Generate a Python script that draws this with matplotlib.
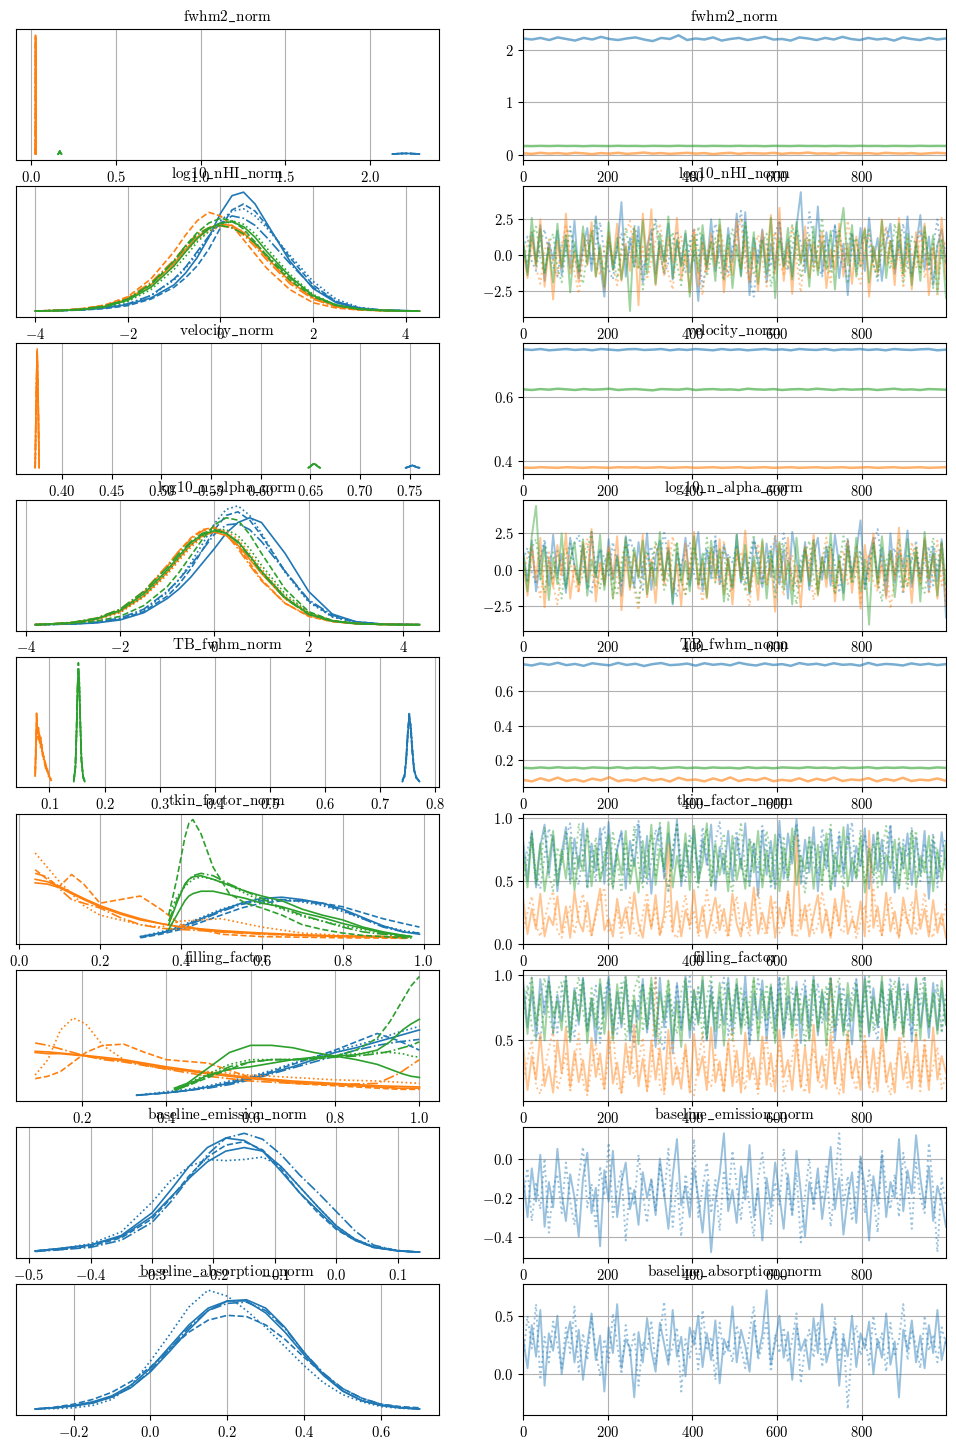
import numpy as np
import matplotlib.pyplot as plt
from matplotlib.ticker import MultipleLocator

plt.rcParams.update({
    "font.family": "serif",
    "font.serif": ["cmr10"],
    "mathtext.fontset": "cm",
    "axes.formatter.use_mathtext": True,
    "font.size": 10.5,
})

BLUE, ORANGE, GREEN = "#1f77b4", "#ff7f0e", "#2ca02c"
STYLES = ["-", "--", ":", "-.", "-"]

# ---------------- fwhm2_norm ----------------
fwhm2_grid_orange = [0.026, 0.027, 0.028, 0.029, 0.030, 0.031]
fwhm2_kde_orange = [[0, 0.3, 1.0, 0.95, 0.25, 0], [0, 0.35, 0.98, 0.9, 0.3, 0],
                    [0, 0.25, 0.96, 0.97, 0.2, 0], [0, 0.3, 0.93, 0.92, 0.28, 0]]
fwhm2_grid_green = [0.160, 0.165, 0.168, 0.171, 0.174, 0.177, 0.182]
fwhm2_kde_green = [[0, 0.006, 0.018, 0.026, 0.017, 0.005, 0], [0, 0.005, 0.016, 0.024, 0.019, 0.006, 0],
                   [0, 0.007, 0.019, 0.025, 0.015, 0.004, 0], [0, 0.006, 0.017, 0.027, 0.016, 0.005, 0]]
fwhm2_grid_blue = [2.13, 2.15, 2.18, 2.21, 2.24, 2.27, 2.29]
fwhm2_kde_blue = [[0, 0.003, 0.005, 0.006, 0.005, 0.003, 0], [0, 0.002, 0.005, 0.006, 0.005, 0.002, 0],
                  [0, 0.003, 0.006, 0.005, 0.006, 0.003, 0], [0, 0.002, 0.005, 0.006, 0.004, 0.002, 0]]
fwhm2_trace_blue = [2.21, 2.19, 2.22, 2.18, 2.23, 2.20, 2.17, 2.22, 2.19, 2.24, 2.20, 2.18, 2.21, 2.23, 2.19,
                    2.16, 2.22, 2.20, 2.27, 2.18, 2.21, 2.19, 2.23, 2.17, 2.20, 2.22, 2.18, 2.21, 2.24, 2.19,
                    2.20, 2.17, 2.23, 2.21, 2.18, 2.22, 2.19, 2.24, 2.20, 2.18, 2.22, 2.19, 2.21, 2.17, 2.23,
                    2.20, 2.18, 2.22, 2.19, 2.21]
fwhm2_trace_green = [0.170, 0.167, 0.172, 0.168, 0.173, 0.169, 0.171, 0.166, 0.172, 0.170, 0.168, 0.173, 0.169,
                     0.171, 0.167, 0.172, 0.170, 0.168, 0.174, 0.169, 0.171, 0.167, 0.172, 0.170, 0.168, 0.173,
                     0.169, 0.171, 0.166, 0.172, 0.170, 0.168, 0.173, 0.169, 0.171, 0.167, 0.172, 0.170, 0.168,
                     0.173, 0.169, 0.171, 0.167, 0.172, 0.170, 0.168, 0.173, 0.169, 0.171, 0.170]
fwhm2_trace_orange = [0.03, 0.02, 0.04, 0.025, 0.035, 0.02, 0.04, 0.03, 0.015, 0.035, 0.025, 0.04, 0.02, 0.03,
                      0.045, 0.025, 0.035, 0.02, 0.03, 0.04, 0.025, 0.035, 0.015, 0.03, 0.04, 0.02, 0.035, 0.03,
                      0.025, 0.04, 0.02, 0.035, 0.03, 0.045, 0.025, 0.03, 0.02, 0.04, 0.03, 0.025, 0.035, 0.02,
                      0.04, 0.03, 0.025, 0.035, 0.02, 0.03, 0.04, 0.03]

# ---------------- log10_nHI_norm ----------------
nhi_grid = [-4.0, -3.5, -3.0, -2.5, -2.0, -1.5, -1.0, -0.75, -0.5, -0.25, 0.0, 0.25, 0.5, 0.75, 1.0,
            1.5, 2.0, 2.5, 3.0, 3.5, 4.0, 4.3]
nhi_kde_blue = [
    [0.0, 0.003, 0.01, 0.025, 0.055, 0.11, 0.22, 0.32, 0.45, 0.62, 0.82, 0.97, 1.0, 0.9, 0.74, 0.42, 0.19, 0.07, 0.02, 0.006, 0.002, 0.0],
    [0.0, 0.002, 0.008, 0.02, 0.045, 0.1, 0.2, 0.28, 0.38, 0.52, 0.7, 0.85, 0.9, 0.84, 0.72, 0.45, 0.22, 0.08, 0.025, 0.007, 0.002, 0.0],
    [0.0, 0.004, 0.012, 0.03, 0.06, 0.13, 0.26, 0.36, 0.48, 0.62, 0.76, 0.84, 0.86, 0.8, 0.7, 0.47, 0.25, 0.1, 0.03, 0.008, 0.002, 0.0],
    [0.0, 0.003, 0.01, 0.028, 0.06, 0.13, 0.27, 0.37, 0.5, 0.63, 0.74, 0.8, 0.78, 0.72, 0.62, 0.4, 0.2, 0.08, 0.025, 0.007, 0.002, 0.0],
]
nhi_kde_orange = [
    [0.0, 0.004, 0.015, 0.04, 0.1, 0.22, 0.4, 0.52, 0.62, 0.7, 0.73, 0.72, 0.66, 0.56, 0.45, 0.25, 0.11, 0.04, 0.012, 0.003, 0.0, 0.0],
    [0.0, 0.005, 0.02, 0.05, 0.12, 0.27, 0.5, 0.64, 0.76, 0.83, 0.8, 0.72, 0.6, 0.48, 0.36, 0.18, 0.07, 0.025, 0.008, 0.002, 0.0, 0.0],
    [0.0, 0.004, 0.014, 0.038, 0.09, 0.2, 0.38, 0.5, 0.6, 0.67, 0.71, 0.71, 0.67, 0.58, 0.47, 0.27, 0.12, 0.045, 0.014, 0.004, 0.001, 0.0],
    [0.0, 0.005, 0.018, 0.045, 0.11, 0.24, 0.43, 0.55, 0.65, 0.7, 0.72, 0.7, 0.64, 0.54, 0.43, 0.23, 0.1, 0.035, 0.01, 0.003, 0.0, 0.0],
]
nhi_kde_green = [
    [0.0, 0.003, 0.012, 0.035, 0.09, 0.2, 0.38, 0.5, 0.61, 0.69, 0.74, 0.75, 0.71, 0.62, 0.5, 0.29, 0.13, 0.05, 0.015, 0.004, 0.001, 0.0],
    [0.0, 0.004, 0.014, 0.04, 0.1, 0.22, 0.42, 0.55, 0.66, 0.74, 0.78, 0.76, 0.69, 0.58, 0.46, 0.26, 0.12, 0.045, 0.014, 0.004, 0.001, 0.0],
    [0.0, 0.003, 0.01, 0.03, 0.08, 0.18, 0.35, 0.46, 0.58, 0.67, 0.73, 0.76, 0.73, 0.65, 0.53, 0.31, 0.14, 0.05, 0.016, 0.005, 0.002, 0.0],
    [0.0, 0.004, 0.015, 0.042, 0.1, 0.23, 0.42, 0.54, 0.64, 0.7, 0.72, 0.7, 0.65, 0.57, 0.47, 0.28, 0.13, 0.05, 0.016, 0.005, 0.001, 0.0],
]
nhi_trace_blue = [0.8, -1.2, 1.6, -0.5, 2.1, -1.8, 0.9, -0.3, 1.7, -1.4,
                  1.1, -0.9, 2.4, -1.6, 0.5, 1.9, -1.1, 2.7, -0.6, -2.9,
                  1.3, -1.0, 0.4, 3.7, -1.5, 1.2, -0.8, 2.0, -1.9, 0.6,
                  1.8, -1.3, 0.9, -0.4, 2.2, -1.7, 1.0, -0.7, 1.5, -1.2,
                  0.3, -3.2, 1.4, -0.9, 2.5, -1.1, 0.7, -1.6, 1.9, -0.5,
                  2.9, -1.4, 3.0, -2.8, 1.2, -0.6, 1.8, -1.9, 0.8, -1.0,
                  2.3, -0.8, 1.1, -1.5, 2.0, 4.4, -1.2, 0.9, -0.6, 3.4,
                  -1.3, 1.6, -0.9, 2.1, -1.6, 0.8, -2.8, 1.4, -0.7, 1.9,
                  -1.1, 2.6, -0.4, 1.2, -1.8, 0.9, 2.2, -1.3, 1.0, -0.8,
                  2.7, -1.5, 0.6, 2.8, -1.0, 1.3, -2.1, 0.7, 1.8, -0.6]
nhi_trace_blue2 = [0.5, 1.3, -0.4, -1.1, 0.9, 1.8, 0.2, -0.8, -1.5, 0.6,
                   1.4, 2.0, -0.2, -1.3, 0.4, 1.1, -0.6, 0.8, 2.3, 0.1,
                   -1.0, -1.7, 0.7, 1.5, -0.3, 0.5, 2.1, 1.0, -0.9, -0.2,
                   1.2, 2.6, 0.3, -1.4, -0.5, 0.9, 1.7, -0.1, -1.2, 0.6,
                   1.9, 0.4, -2.2, -0.7, 1.0, 2.2, 0.8, -0.4, -1.3, 0.5,
                   1.6, 3.1, 0.2, -1.6, -2.9, 0.3, 1.2, 0.7, -0.8, 1.5,
                   2.4, -0.3, -1.1, 0.6, 1.8, 0.9, -0.5, 3.0, 1.1, -0.7,
                   -1.5, 0.4, 1.3, 2.0, -0.2, -0.9, 0.8, 1.6, -1.2, 0.2,
                   1.4, 0.6, -0.6, -1.8, 0.5, 1.9, 1.0, -0.4, 0.7, 2.2,
                   -0.8, -1.4, 0.9, 1.7, 0.3, -1.0, 0.6, 2.5, -0.3, 0.8]
nhi_trace_orange = [0.4, -1.6, 1.2, -0.8, 2.5, -2.2, 0.6, -3.1, 1.0, -0.9,
                    2.9, -1.3, 0.2, -1.9, 1.5, -0.7, 2.3, -1.5, 0.5, -2.4,
                    1.6, -0.6, 2.2, -1.8, 0.8, -1.1, 1.9, -3.5, 2.9, -0.4,
                    3.2, -2.1, 0.7, -1.4, 1.3, -0.5, 2.6, -1.7, 0.3, -2.6,
                    1.8, -2.2, 0.9, -1.2, 1.5, -0.8, 2.1, -2.6, 0.6, -1.4,
                    2.4, -0.9, 1.1, -1.9, 0.5, -2.5, 1.7, -0.6, 2.8, -1.3,
                    3.3, -1.8, 0.8, -2.7, 1.4, -0.5, 2.0, -1.6, 0.9, -1.1,
                    1.5, -2.3, 0.4, -1.0, 2.2, -1.5, 0.7, -2.0, 1.3, -0.8,
                    1.9, -2.9, 0.6, -1.2, 2.5, -0.7, 1.0, -2.1, 2.6, -1.4,
                    0.8, -2.4, 1.6, -0.9, 2.2, -2.8, 0.5, -1.3, 2.6, -1.7]
nhi_trace_orange2 = [-0.5, 0.8, 1.6, -0.9, -2.0, 0.3, 1.1, -0.4, -1.5, 0.7,
                     2.0, 0.2, -1.2, -2.7, -0.3, 0.9, 1.8, -0.6, -1.4, 0.4,
                     1.2, -0.8, -2.1, 0.1, 1.5, 2.4, -0.2, -1.0, 0.6, -1.7,
                     -0.4, 1.0, 2.2, 0.3, -1.3, -2.4, 0.5, 1.3, -0.7, -0.1,
                     1.7, -1.1, -2.8, 0.2, 0.9, -0.5, 1.9, 0.6, -1.6, -0.3,
                     1.1, 2.6, -0.9, -1.8, 0.4, 1.4, -0.2, -2.2, 0.8, 1.6,
                     -0.6, -1.3, 0.7, 2.1, -0.4, -2.6, 0.0, 1.2, -1.0, 0.5,
                     1.8, -0.7, -1.9, 0.3, 1.0, -0.3, 2.4, 0.6, -1.2, -2.0,
                     0.2, 1.5, -0.8, -1.4, 0.9, 2.0, -0.5, -1.1, 0.4, -2.3,
                     1.3, 0.1, -0.9, 1.7, -1.6, -0.2, 0.8, -2.9, 0.5, 1.0]
nhi_trace_green = [1.0, -1.4, 2.6, -0.7, 1.8, -1.2, 0.5, -1.9, 2.2, -0.8,
                   1.4, -2.6, 0.9, -1.1, 2.0, -0.6, 1.6, -1.5, 0.7, -2.2,
                   2.3, -1.0, 1.2, -1.7, 0.6, -3.9, 1.9, -0.9, 2.4, -1.3,
                   0.8, -2.0, 1.5, -0.5, 2.7, -1.6, 1.1, -0.8, 1.7, -2.9,
                   1.3, -1.2, 2.1, -0.7, 0.9, -1.8, 2.5, -1.0, 1.4, -2.3,
                   0.7, -1.5, 2.2, -0.9, 1.6, -2.0, 1.0, -1.3, 2.6, -3.0,
                   1.2, -0.8, 1.9, -1.7, 2.3, -0.6, 1.1, -2.2, 2.0, -1.4,
                   0.9, -1.0, 1.7, -2.4, 1.3, 3.3, -0.7, 2.1, -1.5, 0.8,
                   1.8, -1.9, 0.6, -1.1, 2.4, -1.6, 1.0, -0.9, 2.2, -1.3,
                   1.5, -2.1, 0.8, -1.8, 2.0, -0.7, 1.4, -2.6, 1.1, -3.0]
nhi_trace_green2 = [0.3, -0.6, 1.2, 2.0, -0.2, -1.3, 0.8, 1.5, -0.9, -1.9,
                    0.4, 1.7, 0.6, -0.7, -2.0, 0.2, 1.3, 2.5, -0.4, -1.1,
                    0.9, -0.3, -1.6, 0.5, 1.9, 0.1, -0.8, 1.1, -2.4, -0.5,
                    1.4, 2.2, -0.1, -1.2, 0.7, 1.6, -0.6, -2.1, 0.3, 1.0,
                    -0.4, 2.0, 0.8, -1.5, -0.2, 1.2, -0.9, -1.8, 0.6, 1.8,
                    0.2, -1.0, 2.3, 0.4, -1.4, -0.3, 0.9, 1.5, -2.2, -0.6,
                    1.1, 0.3, -0.8, 2.1, 0.7, -1.6, -0.1, 1.4, -1.1, 0.5,
                    2.6, -0.5, -1.3, 0.8, 1.7, -0.2, -2.0, 0.6, 1.2, -0.9,
                    0.1, 1.9, -0.7, -1.5, 0.9, 0.3, -1.0, 2.2, 0.5, -1.9,
                    -0.4, 1.3, 0.7, -1.2, 1.6, -0.3, -2.3, 0.8, 1.1, -0.6]

# ---------------- velocity_norm ----------------
vel_grid_orange = [0.3730, 0.3740, 0.3750, 0.3760, 0.3770]
vel_kde_orange = [[0, 0.6, 1.0, 0.55, 0], [0, 0.5, 0.97, 0.6, 0], [0, 0.55, 0.95, 0.5, 0], [0, 0.6, 0.98, 0.58, 0]]
vel_grid_green = [0.648, 0.650, 0.652, 0.654, 0.656, 0.658, 0.660]
vel_kde_green = [[0, 0.01, 0.025, 0.035, 0.024, 0.01, 0], [0, 0.012, 0.028, 0.033, 0.022, 0.008, 0],
                 [0, 0.009, 0.024, 0.036, 0.026, 0.011, 0], [0, 0.011, 0.027, 0.034, 0.023, 0.009, 0]]
vel_grid_blue = [0.746, 0.749, 0.751, 0.753, 0.755, 0.757, 0.760]
vel_kde_blue = [[0, 0.008, 0.016, 0.02, 0.014, 0.006, 0], [0, 0.007, 0.014, 0.022, 0.012, 0.005, 0],
                [0, 0.009, 0.017, 0.019, 0.015, 0.007, 0], [0, 0.008, 0.015, 0.021, 0.013, 0.006, 0]]
vel_trace_blue = [0.751, 0.749, 0.752, 0.748, 0.750, 0.752, 0.749, 0.751, 0.748, 0.752, 0.750, 0.748, 0.751,
                  0.752, 0.749, 0.750, 0.752, 0.748, 0.751, 0.749, 0.752, 0.750, 0.748, 0.752, 0.749, 0.751,
                  0.748, 0.750, 0.752, 0.749, 0.751, 0.748, 0.752, 0.750, 0.749, 0.752, 0.748, 0.751, 0.750,
                  0.752, 0.749, 0.751, 0.748, 0.752, 0.750, 0.749, 0.751, 0.752, 0.748, 0.750]
vel_trace_green = [0.625, 0.623, 0.626, 0.624, 0.627, 0.625, 0.623, 0.626, 0.624, 0.625, 0.627, 0.623, 0.625,
                   0.626, 0.624, 0.622, 0.626, 0.625, 0.624, 0.627, 0.623, 0.625, 0.626, 0.624, 0.625, 0.623,
                   0.627, 0.625, 0.624, 0.626, 0.623, 0.625, 0.626, 0.624, 0.627, 0.625, 0.623, 0.626, 0.624,
                   0.625, 0.626, 0.623, 0.625, 0.627, 0.624, 0.625, 0.623, 0.626, 0.625, 0.624]
vel_trace_orange = [0.379, 0.378, 0.380, 0.379, 0.378, 0.380, 0.379, 0.378, 0.380, 0.379, 0.378, 0.380, 0.379,
                    0.380, 0.378, 0.379, 0.380, 0.378, 0.379, 0.380, 0.378, 0.379, 0.380, 0.378, 0.379, 0.380,
                    0.378, 0.379, 0.380, 0.378, 0.379, 0.380, 0.378, 0.379, 0.380, 0.378, 0.379, 0.380, 0.378,
                    0.379, 0.380, 0.378, 0.379, 0.380, 0.378, 0.379, 0.380, 0.378, 0.379, 0.380]

# ---------------- log10_n_alpha_norm ----------------
nal_grid = [-3.8, -3.5, -3.0, -2.5, -2.0, -1.5, -1.0, -0.75, -0.5, -0.25, 0.0, 0.25, 0.5, 0.75, 1.0,
            1.5, 2.0, 2.5, 3.0, 3.5, 4.0, 4.35]
nal_kde_blue = [
    [0, 0.002, 0.006, 0.015, 0.04, 0.1, 0.22, 0.3, 0.4, 0.52, 0.64, 0.77, 0.86, 0.9, 0.86, 0.6, 0.28, 0.09, 0.025, 0.007, 0.002, 0],
    [0, 0.002, 0.007, 0.018, 0.045, 0.11, 0.24, 0.34, 0.47, 0.63, 0.8, 0.92, 0.95, 0.88, 0.75, 0.45, 0.2, 0.07, 0.02, 0.006, 0.003, 0],
    [0, 0.002, 0.007, 0.02, 0.05, 0.12, 0.27, 0.38, 0.52, 0.68, 0.85, 0.97, 1.0, 0.92, 0.77, 0.44, 0.19, 0.065, 0.02, 0.006, 0.002, 0],
    [0, 0.003, 0.008, 0.022, 0.055, 0.13, 0.28, 0.38, 0.5, 0.63, 0.76, 0.84, 0.85, 0.8, 0.7, 0.45, 0.21, 0.08, 0.025, 0.008, 0.003, 0],
]
nal_kde_orange = [
    [0, 0.004, 0.015, 0.045, 0.11, 0.24, 0.44, 0.56, 0.67, 0.75, 0.78, 0.75, 0.67, 0.55, 0.43, 0.22, 0.09, 0.03, 0.01, 0.003, 0.001, 0],
    [0, 0.005, 0.018, 0.05, 0.12, 0.27, 0.49, 0.62, 0.73, 0.8, 0.82, 0.77, 0.66, 0.52, 0.38, 0.18, 0.07, 0.025, 0.008, 0.002, 0, 0],
    [0, 0.004, 0.015, 0.042, 0.1, 0.23, 0.42, 0.54, 0.65, 0.74, 0.79, 0.79, 0.72, 0.6, 0.47, 0.24, 0.1, 0.035, 0.01, 0.003, 0, 0],
    [0, 0.006, 0.02, 0.055, 0.13, 0.28, 0.5, 0.62, 0.72, 0.79, 0.81, 0.76, 0.64, 0.5, 0.37, 0.18, 0.075, 0.03, 0.01, 0.003, 0, 0],
]
nal_kde_green = [
    [0, 0.005, 0.018, 0.05, 0.12, 0.26, 0.46, 0.58, 0.69, 0.76, 0.79, 0.77, 0.7, 0.58, 0.45, 0.23, 0.09, 0.03, 0.01, 0.003, 0, 0],
    [0, 0.003, 0.01, 0.03, 0.07, 0.16, 0.32, 0.44, 0.58, 0.72, 0.84, 0.9, 0.88, 0.76, 0.6, 0.3, 0.11, 0.035, 0.01, 0.003, 0, 0],
    [0, 0.004, 0.015, 0.045, 0.11, 0.24, 0.44, 0.56, 0.67, 0.75, 0.8, 0.8, 0.75, 0.64, 0.5, 0.26, 0.1, 0.035, 0.01, 0.003, 0, 0],
    [0, 0.005, 0.02, 0.055, 0.13, 0.28, 0.48, 0.6, 0.7, 0.77, 0.8, 0.77, 0.69, 0.57, 0.44, 0.22, 0.085, 0.03, 0.01, 0.003, 0, 0],
]
nal_trace_blue = [1.2, -0.8, 2.0, -1.5, 0.6, 1.8, -1.1, 2.4, -0.4, 1.1,
                  -1.6, 2.2, 0.3, -0.9, 1.7, -1.3, 2.6, -0.5, 1.4, -1.0,
                  2.1, -0.7, 1.0, -1.8, 2.3, 0.2, -1.2, 1.9, -0.6, 2.5,
                  -1.4, 0.9, 2.0, -0.8, 1.5, -2.4, 1.2, -0.3, 2.2, -1.1,
                  0.8, 2.6, -1.5, 1.3, -0.6, 2.0, -1.0, 1.7, 0.4, -1.3,
                  2.4, -0.9, 1.1, -1.7, 2.1, 0.5, -1.2, 1.8, -0.5, 2.3,
                  -1.0, 1.4, -2.0, 2.6, 0.7, -0.8, 1.9, -1.4, 1.0, 2.2,
                  -0.7, 1.6, -1.1, 2.4, 0.3, -1.6, 2.0, -0.4, 1.2, 3.4,
                  -1.3, 0.9, 2.2, -0.6, 1.5, -1.8, 2.5, -0.9, 1.3, 0.1,
                  2.7, -1.2, 1.0, -0.5, 2.0, -1.5, 1.6, -0.8, 2.1, -3.3]
nal_trace_blue2 = [0.7, 1.5, -0.2, -1.0, 0.9, 2.1, 0.4, -0.7, 1.3, 0.1,
                   -1.2, 0.6, 1.8, 2.4, 0.2, -0.9, -1.7, 0.5, 1.4, 0.8,
                   -0.4, 1.9, 0.3, -1.1, 0.7, 2.2, 1.0, -0.5, -1.4, 0.9,
                   1.6, -0.1, 0.5, 2.7, 0.6, -0.8, -1.9, 0.4, 1.2, 1.9,
                   -0.3, -1.0, 0.8, 1.5, 0.2, 2.3, -0.6, -1.3, 1.1, 0.5,
                   1.7, -0.2, -0.9, 0.6, 2.0, 1.2, -0.7, 0.3, 1.6, -1.5,
                   0.4, 2.5, 0.9, -0.4, -1.2, 0.7, 1.4, 0.1, 2.1, -0.8,
                   -0.2, 1.0, 1.8, 0.3, -1.6, 0.6, 2.2, -0.5, 0.9, 1.3,
                   -1.0, 0.2, 1.7, 2.8, 0.4, -0.9, 0.8, 1.5, -0.3, -1.7,
                   1.1, 0.5, 2.0, -0.6, 0.7, 1.6, -1.1, 0.3, 1.9, -2.6]
nal_trace_orange = [0.6, -1.8, 1.4, -0.7, 2.2, -2.6, 0.8, -1.2, 1.7, -0.4,
                    2.5, -2.0, 0.3, -1.5, 1.9, -0.8, 2.8, -2.2, 0.5, -1.1,
                    1.6, -0.6, 2.3, -2.8, 0.9, -1.4, 1.2, -0.5, 2.4, -1.9,
                    0.7, -2.3, 1.5, -0.9, 2.0, -1.6, 0.4, -2.5, 1.8, -0.7,
                    2.6, -1.3, 0.6, -2.0, 1.3, -0.8, 2.1, -1.7, 0.8, -2.4,
                    1.4, -0.6, 2.7, -1.5, 0.5, -2.1, 1.9, -1.0, 0.7, -2.9,
                    1.8, -0.9, 2.2, -1.4, 0.3, -2.6, 1.6, -0.7, 2.4, -1.8,
                    0.9, -1.2, 1.5, -2.2, 0.6, -0.9, 2.0, -1.6, 1.1, -2.7,
                    1.7, -0.8, 2.5, -1.3, 0.4, -2.0, 1.3, -0.6, 2.9, -1.5,
                    0.8, -2.3, 1.6, -1.1, 2.2, -0.7, 1.0, -2.0, 1.8, -2.5]
nal_trace_orange2 = [-0.3, 0.9, 1.7, -0.6, -1.9, 0.4, 1.2, -1.1, -2.4, 0.2,
                     1.5, 0.6, -0.9, -1.6, 0.8, 2.1, -0.2, -1.3, 0.5, -0.7,
                     1.4, -2.0, -0.4, 0.7, 1.9, 0.1, -1.5, -2.8, 0.3, 1.1,
                     -0.5, 1.8, 0.4, -1.2, -0.1, 2.3, 0.9, -0.8, -1.7, 0.6,
                     1.3, -0.6, -2.2, 0.0, 1.6, 0.5, -1.0, 2.0, -0.3, -1.4,
                     0.7, 1.2, -0.9, -2.5, 0.4, 1.8, -0.4, -1.1, 0.9, 2.4,
                     -0.2, -1.8, 0.3, 1.0, -0.7, -1.3, 1.5, 0.6, -2.1, -0.5,
                     0.8, 2.2, -0.1, -1.6, 0.5, 1.3, -1.0, -0.3, 1.7, -2.3,
                     0.2, 1.1, -0.8, -1.5, 0.9, 0.4, -2.7, -0.6, 1.4, 0.7,
                     -1.2, 1.9, 0.1, -0.9, 1.2, -1.7, -0.2, 2.0, -1.1, 0.3]
nal_trace_green = [1.1, -1.5, 2.3, 4.4, -0.7, 1.6, -2.1, 0.8, -1.0, 2.5,
                   -1.3, 0.6, 1.9, -0.9, 2.1, -1.8, 0.7, -0.5, 2.4, -1.4,
                   1.2, -2.0, 0.9, -0.8, 2.2, -1.2, 1.5, -0.6, 2.0, -1.7,
                   0.5, -1.1, 2.6, -0.7, 1.3, -2.3, 1.8, -0.9, 0.6, -1.5,
                   2.3, -1.0, 1.1, -1.9, 2.0, -0.5, 1.4, -2.2, 0.8, -1.2,
                   2.4, -0.8, 1.7, -1.6, 0.9, -1.0, 2.1, -2.0, 1.2, -0.7,
                   1.9, -1.4, 0.6, -2.4, 2.2, -0.9, 1.5, -1.1, 2.0, -1.7,
                   0.8, -0.6, 2.5, -1.3, 1.0, -2.1, 1.6, -0.8, 2.2, -1.5,
                   0.7, -3.8, 1.8, -1.0, 2.3, -0.7, 1.2, -1.9, 0.9, -1.2,
                   2.1, -0.9, 1.4, -2.2, 2.6, -0.6, 1.1, -1.8, 1.9, -1.0]
nal_trace_green2 = [0.4, -0.9, 1.5, 2.1, -0.3, -1.6, 0.7, 1.2, -0.5, -2.0,
                    0.9, 1.8, 0.2, -1.1, -0.4, 1.4, 2.6, -0.2, -1.3, 0.6,
                    1.1, -0.7, -1.8, 0.3, 1.7, 0.8, -1.0, -2.3, 0.5, 1.3,
                    -0.1, 2.0, 0.6, -1.4, -0.6, 1.0, 1.9, -0.8, -1.7, 0.2,
                    1.6, 0.4, -1.2, 2.2, -0.3, -0.9, 0.8, 1.5, -2.1, -0.5,
                    1.2, 0.1, -1.5, 0.9, 2.4, -0.2, -1.1, 0.6, 1.4, -1.9,
                    -0.4, 1.8, 0.5, -0.8, -2.4, 0.3, 1.1, 2.0, -0.6, -1.3,
                    0.7, 1.6, -0.1, -1.7, 0.4, 2.3, 0.9, -1.0, -0.3, 1.2,
                    -1.5, 0.2, 1.7, -0.7, -2.2, 0.6, 1.3, -0.4, 2.1, 0.0,
                    -1.2, 0.8, 1.5, -0.9, -1.6, 0.5, 2.2, -0.2, 0.9, -1.4]

# ---------------- TB_fwhm_norm ----------------
tb_grid_orange = [0.074, 0.0755, 0.0765, 0.078, 0.080, 0.082, 0.084, 0.086, 0.088, 0.090, 0.093, 0.096, 0.099, 0.103]
tb_kde_orange = [[0.06, 0.3, 0.58, 0.42, 0.46, 0.35, 0.38, 0.28, 0.25, 0.2, 0.16, 0.1, 0.06, 0.02],
                 [0.1, 0.4, 0.5, 0.48, 0.38, 0.4, 0.3, 0.32, 0.22, 0.22, 0.13, 0.12, 0.05, 0.03],
                 [0.08, 0.35, 0.45, 0.4, 0.44, 0.33, 0.34, 0.26, 0.27, 0.18, 0.15, 0.08, 0.07, 0.02],
                 [0.05, 0.25, 0.4, 0.44, 0.36, 0.37, 0.28, 0.3, 0.2, 0.19, 0.12, 0.1, 0.04, 0.02]]
tb_grid_green = [0.144, 0.147, 0.149, 0.151, 0.1525, 0.154, 0.156, 0.158, 0.161, 0.164]
tb_kde_green = [[0.01, 0.12, 0.4, 0.8, 0.95, 0.85, 0.5, 0.2, 0.05, 0.01],
                [0.02, 0.14, 0.42, 0.78, 1.0, 0.82, 0.48, 0.18, 0.06, 0.01],
                [0.01, 0.1, 0.38, 0.75, 0.9, 0.88, 0.52, 0.22, 0.05, 0.02],
                [0.02, 0.13, 0.41, 0.82, 0.93, 0.8, 0.47, 0.19, 0.04, 0.01]]
tb_grid_blue = [0.741, 0.745, 0.748, 0.751, 0.7535, 0.756, 0.759, 0.762, 0.766, 0.772]
tb_kde_blue = [[0.01, 0.06, 0.2, 0.42, 0.55, 0.48, 0.28, 0.12, 0.04, 0.01],
               [0.02, 0.07, 0.22, 0.45, 0.59, 0.44, 0.25, 0.1, 0.05, 0.01],
               [0.01, 0.05, 0.18, 0.4, 0.5, 0.5, 0.3, 0.13, 0.04, 0.01],
               [0.02, 0.06, 0.21, 0.43, 0.53, 0.46, 0.27, 0.11, 0.05, 0.01]]
tb_trace_blue = [0.755, 0.748, 0.760, 0.752, 0.764, 0.750, 0.757, 0.746, 0.761, 0.754, 0.749, 0.763, 0.751,
                 0.758, 0.745, 0.756, 0.762, 0.750, 0.753, 0.759, 0.747, 0.761, 0.752, 0.757, 0.749, 0.764,
                 0.754, 0.748, 0.760, 0.751, 0.756, 0.746, 0.762, 0.753, 0.758, 0.749, 0.761, 0.752, 0.755,
                 0.747, 0.763, 0.750, 0.757, 0.754, 0.748, 0.760, 0.752, 0.758, 0.750, 0.756]
tb_trace_green = [0.155, 0.152, 0.157, 0.153, 0.158, 0.154, 0.156, 0.151, 0.157, 0.155, 0.153, 0.158, 0.152,
                  0.156, 0.154, 0.157, 0.151, 0.155, 0.158, 0.153, 0.156, 0.152, 0.157, 0.154, 0.155, 0.151,
                  0.158, 0.153, 0.156, 0.152, 0.157, 0.155, 0.153, 0.158, 0.154, 0.156, 0.152, 0.157, 0.153,
                  0.155, 0.158, 0.152, 0.156, 0.154, 0.157, 0.153, 0.155, 0.152, 0.157, 0.154]
tb_trace_orange = [0.085, 0.076, 0.094, 0.080, 0.098, 0.078, 0.088, 0.075, 0.092, 0.082, 0.100, 0.077, 0.086,
                   0.079, 0.095, 0.081, 0.090, 0.075, 0.097, 0.083, 0.087, 0.076, 0.093, 0.080, 0.099, 0.078,
                   0.089, 0.082, 0.096, 0.077, 0.085, 0.079, 0.094, 0.076, 0.091, 0.081, 0.098, 0.078, 0.087,
                   0.083, 0.095, 0.076, 0.090, 0.080, 0.097, 0.078, 0.086, 0.082, 0.093, 0.079]

# ---------------- tkin_factor_norm ----------------
tkin_grid_orange = [0.04, 0.07, 0.1, 0.13, 0.16, 0.2, 0.25, 0.3, 0.35, 0.4, 0.5, 0.6, 0.7, 0.8, 0.9, 0.96]
tkin_kde_orange = [
    [0.47, 0.46, 0.43, 0.38, 0.33, 0.27, 0.21, 0.16, 0.13, 0.1, 0.07, 0.05, 0.035, 0.025, 0.02, 0.015],
    [0.58, 0.5, 0.44, 0.54, 0.46, 0.3, 0.33, 0.36, 0.25, 0.12, 0.04, 0.02, 0.015, 0.01, 0.008, 0.005],
    [0.72, 0.6, 0.48, 0.38, 0.28, 0.2, 0.16, 0.12, 0.1, 0.15, 0.17, 0.1, 0.05, 0.03, 0.02, 0.015],
    [0.55, 0.52, 0.42, 0.33, 0.3, 0.26, 0.18, 0.12, 0.09, 0.08, 0.06, 0.04, 0.03, 0.025, 0.02, 0.015],
    [0.5, 0.48, 0.44, 0.39, 0.34, 0.28, 0.22, 0.17, 0.13, 0.1, 0.06, 0.045, 0.03, 0.02, 0.015, 0.01],
]
tkin_grid_green = [0.37, 0.39, 0.41, 0.42, 0.43, 0.45, 0.48, 0.52, 0.56, 0.6, 0.65, 0.7, 0.75, 0.8, 0.85, 0.9, 0.95, 0.97]
tkin_kde_green = [
    [0.12, 0.3, 0.46, 0.5, 0.52, 0.53, 0.5, 0.45, 0.4, 0.36, 0.32, 0.25, 0.2, 0.16, 0.1, 0.06, 0.03, 0.02],
    [0.2, 0.5, 0.85, 0.97, 1.0, 0.88, 0.6, 0.38, 0.3, 0.26, 0.2, 0.12, 0.08, 0.05, 0.03, 0.02, 0.01, 0.008],
    [0.2, 0.35, 0.44, 0.47, 0.5, 0.52, 0.5, 0.45, 0.38, 0.32, 0.25, 0.19, 0.15, 0.11, 0.08, 0.05, 0.03, 0.02],
    [0.15, 0.32, 0.45, 0.5, 0.53, 0.55, 0.53, 0.46, 0.4, 0.34, 0.26, 0.2, 0.15, 0.1, 0.06, 0.04, 0.02, 0.015],
    [0.08, 0.2, 0.32, 0.36, 0.38, 0.4, 0.4, 0.37, 0.34, 0.3, 0.27, 0.22, 0.18, 0.13, 0.09, 0.05, 0.03, 0.02],
]
tkin_grid_blue = [0.3, 0.35, 0.4, 0.45, 0.5, 0.55, 0.6, 0.65, 0.7, 0.75, 0.8, 0.85, 0.9, 0.95, 0.99]
tkin_kde_blue = [
    [0.02, 0.05, 0.1, 0.17, 0.24, 0.3, 0.34, 0.35, 0.33, 0.3, 0.25, 0.18, 0.11, 0.06, 0.04],
    [0.01, 0.04, 0.08, 0.14, 0.2, 0.26, 0.3, 0.32, 0.32, 0.3, 0.27, 0.22, 0.17, 0.13, 0.1],
    [0.02, 0.06, 0.11, 0.18, 0.25, 0.3, 0.33, 0.33, 0.31, 0.28, 0.23, 0.17, 0.11, 0.07, 0.05],
    [0.015, 0.05, 0.09, 0.16, 0.23, 0.29, 0.32, 0.33, 0.32, 0.29, 0.24, 0.17, 0.1, 0.06, 0.05],
]
tkin_trace_blue = [0.82, 0.5, 0.9, 0.45, 0.78, 0.95, 0.55, 0.86, 0.42, 0.72,
                   0.93, 0.5, 0.84, 0.6, 0.96, 0.45, 0.8, 0.58, 0.92, 0.48,
                   0.97, 0.55, 0.75, 0.9, 0.44, 0.82, 0.62, 0.95, 0.5, 0.86,
                   0.4, 0.78, 0.94, 0.52, 0.88, 0.6, 0.99, 0.46, 0.8, 0.57,
                   0.91, 0.49, 0.84, 0.63, 0.95, 0.43, 0.77, 0.56, 0.9, 0.5,
                   0.85, 0.6, 0.96, 0.47, 0.8, 0.38, 0.9, 0.55, 0.82, 0.45,
                   0.98, 0.52, 0.88, 0.64, 0.99, 0.48, 0.83, 0.57, 0.93, 0.42,
                   0.8, 0.6, 0.91, 0.46, 0.86, 0.54, 0.95, 0.5, 0.78, 0.62,
                   0.92, 0.44, 0.87, 0.58, 0.83, 0.5, 0.94, 0.41, 0.8, 0.6,
                   0.88, 0.47, 0.85, 0.56, 0.9, 0.36, 0.82, 0.52, 0.89, 0.6]
tkin_trace_blue2 = [0.6, 0.75, 0.88, 0.52, 0.44, 0.7, 0.92, 0.8, 0.55, 0.65,
                    0.85, 0.96, 0.6, 0.47, 0.72, 0.9, 0.68, 0.5, 0.83, 0.94,
                    0.58, 0.45, 0.77, 0.89, 0.62, 0.53, 0.86, 0.98, 0.7, 0.48,
                    0.66, 0.91, 0.8, 0.56, 0.42, 0.74, 0.95, 0.63, 0.5, 0.87,
                    0.78, 0.59, 0.93, 0.69, 0.46, 0.82, 0.97, 0.61, 0.54, 0.76,
                    0.9, 0.65, 0.49, 0.84, 0.72, 0.57, 0.94, 0.8, 0.44, 0.67,
                    0.88, 0.6, 0.51, 0.79, 0.96, 0.7, 0.47, 0.85, 0.63, 0.55,
                    0.92, 0.74, 0.43, 0.68, 0.89, 0.58, 0.81, 0.97, 0.52, 0.64,
                    0.86, 0.71, 0.48, 0.9, 0.6, 0.77, 0.95, 0.54, 0.46, 0.83,
                    0.69, 0.93, 0.57, 0.5, 0.8, 0.66, 0.88, 0.45, 0.73, 0.85]
tkin_trace_orange = [0.35, 0.08, 0.28, 0.12, 0.4, 0.06, 0.22, 0.15, 0.38, 0.09,
                     0.3, 0.05, 0.42, 0.18, 0.1, 0.33, 0.07, 0.25, 0.44, 0.11,
                     0.2, 0.06, 0.36, 0.14, 0.29, 0.08, 0.41, 0.17, 0.05, 0.32,
                     0.12, 0.39, 0.07, 0.24, 0.8, 0.1, 0.34, 0.06, 0.27, 0.15,
                     0.43, 0.09, 0.3, 0.05, 0.21, 0.37, 0.11, 0.28, 0.07, 0.4,
                     0.16, 0.06, 0.33, 0.13, 0.45, 0.08, 0.25, 0.1, 0.38, 0.05,
                     0.29, 0.14, 0.42, 0.07, 0.86, 0.12, 0.31, 0.06, 0.23, 0.39,
                     0.09, 0.27, 0.05, 0.36, 0.15, 0.44, 0.08, 0.2, 0.11, 0.34,
                     0.06, 0.9, 0.13, 0.3, 0.07, 0.41, 0.1, 0.26, 0.05, 0.37,
                     0.18, 0.08, 0.43, 0.12, 0.28, 0.06, 0.35, 0.09, 0.24, 0.05]
tkin_trace_orange2 = [0.12, 0.25, 0.38, 0.15, 0.06, 0.2, 0.33, 0.42, 0.1, 0.05,
                      0.18, 0.3, 0.08, 0.26, 0.4, 0.14, 0.07, 0.22, 0.35, 0.45,
                      0.09, 0.16, 0.28, 0.05, 0.19, 0.37, 0.11, 0.06, 0.24, 0.41,
                      0.13, 0.3, 0.07, 0.17, 0.34, 0.09, 0.045, 0.21, 0.39, 0.12,
                      0.27, 0.06, 0.15, 0.43, 0.2, 0.08, 0.32, 0.14, 0.05, 0.25,
                      0.38, 0.1, 0.18, 0.06, 0.29, 0.44, 0.12, 0.07, 0.23, 0.35,
                      0.09, 0.16, 0.4, 0.11, 0.05, 0.27, 0.19, 0.33, 0.08, 0.14,
                      0.42, 0.2, 0.06, 0.3, 0.13, 0.09, 0.36, 0.24, 0.05, 0.17,
                      0.31, 0.1, 0.45, 0.15, 0.07, 0.22, 0.38, 0.12, 0.06, 0.28,
                      0.16, 0.34, 0.08, 0.2, 0.41, 0.11, 0.05, 0.26, 0.14, 0.32]
tkin_trace_green = [0.72, 0.45, 0.88, 0.5, 0.8, 0.42, 0.66, 0.9, 0.47, 0.75,
                    0.52, 0.85, 0.43, 0.7, 0.58, 0.92, 0.46, 0.78, 0.5, 0.64,
                    0.87, 0.44, 0.73, 0.55, 0.9, 0.48, 0.68, 0.41, 0.82, 0.53,
                    0.95, 0.47, 0.76, 0.6, 0.97, 0.45, 0.7, 0.52, 0.88, 0.43,
                    0.94, 0.5, 0.65, 0.96, 0.46, 0.8, 0.55, 0.72, 0.42, 0.86,
                    0.51, 0.68, 0.44, 0.83, 0.57, 0.9, 0.45, 0.74, 0.49, 0.87,
                    0.42, 0.77, 0.53, 0.92, 0.47, 0.7, 0.58, 0.84, 0.44, 0.79,
                    0.5, 0.88, 0.43, 0.72, 0.56, 0.93, 0.46, 0.68, 0.52, 0.85,
                    0.41, 0.76, 0.55, 0.89, 0.47, 0.71, 0.6, 0.83, 0.44, 0.78,
                    0.51, 0.9, 0.45, 0.7, 0.57, 0.86, 0.42, 0.75, 0.5, 0.8]
tkin_trace_green2 = [0.5, 0.68, 0.82, 0.46, 0.6, 0.93, 0.55, 0.42, 0.77, 0.64,
                     0.89, 0.48, 0.58, 0.96, 0.7, 0.44, 0.62, 0.85, 0.52, 0.74,
                     0.47, 0.9, 0.66, 0.41, 0.8, 0.57, 0.94, 0.63, 0.45, 0.71,
                     0.87, 0.53, 0.98, 0.6, 0.43, 0.76, 0.95, 0.5, 0.67, 0.84,
                     0.56, 0.45, 0.79, 0.92, 0.61, 0.48, 0.73, 0.88, 0.54, 0.42,
                     0.69, 0.97, 0.58, 0.46, 0.81, 0.65, 0.51, 0.9, 0.72, 0.44,
                     0.6, 0.86, 0.49, 0.75, 0.93, 0.55, 0.41, 0.68, 0.82, 0.59,
                     0.47, 0.78, 0.95, 0.52, 0.64, 0.43, 0.87, 0.7, 0.56, 0.91,
                     0.48, 0.66, 0.8, 0.45, 0.73, 0.94, 0.6, 0.5, 0.84, 0.62,
                     0.44, 0.77, 0.9, 0.54, 0.67, 0.47, 0.85, 0.71, 0.58, 0.69]

# ---------------- filling_factor ----------------
fill_grid_orange = [0.09, 0.12, 0.15, 0.18, 0.21, 0.25, 0.3, 0.35, 0.4, 0.5, 0.6, 0.7, 0.8, 0.9, 0.95, 1.0]
fill_kde_orange = [
    [0.37, 0.365, 0.355, 0.345, 0.335, 0.32, 0.3, 0.27, 0.24, 0.19, 0.15, 0.12, 0.1, 0.08, 0.075, 0.07],
    [0.14, 0.16, 0.2, 0.28, 0.36, 0.42, 0.43, 0.36, 0.3, 0.27, 0.15, 0.1, 0.08, 0.06, 0.05, 0.05],
    [0.17, 0.3, 0.55, 0.65, 0.6, 0.42, 0.3, 0.25, 0.22, 0.2, 0.17, 0.15, 0.13, 0.12, 0.11, 0.1],
    [0.44, 0.42, 0.39, 0.36, 0.33, 0.3, 0.28, 0.25, 0.22, 0.16, 0.12, 0.1, 0.09, 0.1, 0.18, 0.3],
    [0.36, 0.35, 0.35, 0.34, 0.33, 0.31, 0.29, 0.26, 0.23, 0.18, 0.14, 0.11, 0.09, 0.07, 0.06, 0.06],
]
fill_grid_green = [0.42, 0.45, 0.5, 0.55, 0.6, 0.65, 0.7, 0.75, 0.8, 0.85, 0.9, 0.93, 0.96, 0.98, 1.0]
fill_kde_green = [
    [0.06, 0.1, 0.23, 0.36, 0.42, 0.42, 0.4, 0.36, 0.33, 0.34, 0.38, 0.45, 0.55, 0.6, 0.64],
    [0.05, 0.08, 0.15, 0.22, 0.28, 0.3, 0.3, 0.3, 0.33, 0.38, 0.48, 0.62, 0.8, 0.92, 1.0],
    [0.06, 0.1, 0.18, 0.26, 0.3, 0.3, 0.3, 0.31, 0.33, 0.35, 0.36, 0.36, 0.35, 0.33, 0.32],
    [0.04, 0.08, 0.16, 0.24, 0.28, 0.3, 0.3, 0.31, 0.32, 0.33, 0.35, 0.37, 0.4, 0.42, 0.45],
    [0.05, 0.09, 0.17, 0.22, 0.24, 0.27, 0.3, 0.32, 0.33, 0.3, 0.26, 0.22, 0.18, 0.16, 0.15],
]
fill_grid_blue = [0.33, 0.4, 0.45, 0.5, 0.55, 0.6, 0.65, 0.7, 0.75, 0.8, 0.85, 0.9, 0.95, 1.0]
fill_kde_blue = [
    [0.0, 0.02, 0.04, 0.07, 0.1, 0.14, 0.19, 0.24, 0.3, 0.36, 0.4, 0.45, 0.5, 0.55],
    [0.0, 0.02, 0.04, 0.07, 0.11, 0.15, 0.2, 0.26, 0.32, 0.38, 0.45, 0.52, 0.46, 0.38],
    [0.0, 0.03, 0.05, 0.08, 0.12, 0.16, 0.21, 0.27, 0.32, 0.37, 0.42, 0.47, 0.53, 0.58],
    [0.0, 0.02, 0.04, 0.06, 0.09, 0.13, 0.18, 0.23, 0.28, 0.33, 0.38, 0.42, 0.45, 0.47],
]
fill_trace_blue = [0.95, 0.6, 0.88, 0.52, 0.97, 0.7, 0.99, 0.55, 0.85, 0.65,
                   0.96, 0.5, 0.9, 0.62, 0.98, 0.57, 0.82, 0.48, 0.93, 0.68,
                   0.99, 0.54, 0.87, 0.6, 0.95, 0.5, 0.8, 0.66, 0.97, 0.56,
                   0.9, 0.45, 0.98, 0.6, 0.86, 0.4, 0.94, 0.58, 0.99, 0.52,
                   0.88, 0.64, 0.96, 0.5, 0.9, 0.44, 0.83, 0.62, 0.98, 0.55,
                   0.92, 0.6, 0.99, 0.49, 0.86, 0.66, 0.96, 0.5, 0.9, 0.58,
                   0.98, 0.52, 0.84, 0.63, 0.95, 0.48, 0.91, 0.6, 0.99, 0.54,
                   0.87, 0.65, 0.97, 0.5, 0.92, 0.57, 0.85, 0.47, 0.96, 0.62,
                   0.99, 0.53, 0.9, 0.6, 0.95, 0.51, 0.88, 0.64, 0.98, 0.55,
                   0.93, 0.49, 0.97, 0.6, 0.86, 0.52, 0.94, 0.58, 0.9, 0.62]
fill_trace_blue2 = [0.7, 0.88, 0.98, 0.62, 0.5, 0.8, 0.95, 0.74, 0.56, 0.9,
                    0.99, 0.66, 0.53, 0.84, 0.97, 0.6, 0.72, 0.92, 0.48, 0.78,
                    0.96, 0.64, 0.55, 0.89, 0.99, 0.7, 0.45, 0.82, 0.94, 0.58,
                    0.76, 0.98, 0.52, 0.42, 0.86, 0.68, 0.93, 0.6, 0.8, 0.99,
                    0.57, 0.9, 0.73, 0.5, 0.95, 0.65, 0.85, 0.98, 0.54, 0.77,
                    0.93, 0.62, 0.88, 0.47, 0.7, 0.97, 0.81, 0.58, 0.92, 0.66,
                    0.99, 0.55, 0.79, 0.9, 0.6, 0.86, 0.96, 0.51, 0.74, 0.94,
                    0.63, 0.83, 0.99, 0.56, 0.69, 0.91, 0.6, 0.87, 0.97, 0.53,
                    0.78, 0.95, 0.64, 0.5, 0.89, 0.72, 0.98, 0.59, 0.84, 0.93,
                    0.67, 0.55, 0.9, 0.76, 0.99, 0.61, 0.8, 0.94, 0.57, 0.85]
fill_trace_orange = [0.45, 0.12, 0.38, 0.2, 0.55, 0.15, 0.3, 0.1, 0.5, 0.25,
                     0.6, 0.14, 0.42, 0.18, 0.35, 0.11, 0.52, 0.22, 0.4, 0.13,
                     0.57, 0.17, 0.33, 0.1, 0.48, 0.24, 0.62, 0.15, 0.36, 0.12,
                     0.5, 0.2, 0.44, 0.11, 0.58, 0.16, 0.3, 0.13, 0.47, 0.1,
                     0.55, 0.23, 0.38, 0.12, 0.6, 0.18, 0.34, 0.11, 0.49, 0.15,
                     0.42, 0.1, 0.56, 0.2, 0.37, 0.13, 0.53, 0.16, 0.4, 0.11,
                     0.58, 0.22, 0.35, 0.12, 0.5, 0.14, 0.45, 0.1, 0.62, 0.19,
                     0.38, 0.13, 0.54, 0.17, 0.43, 0.1, 0.57, 0.21, 0.36, 0.12,
                     0.5, 0.15, 0.44, 0.11, 0.59, 0.18, 0.33, 0.1, 0.52, 0.2,
                     0.4, 0.13, 0.56, 0.16, 0.46, 0.12, 0.6, 0.2, 0.38, 0.25]
fill_trace_orange2 = [0.2, 0.35, 0.5, 0.15, 0.09, 0.28, 0.44, 0.58, 0.12, 0.24,
                      0.4, 0.1, 0.32, 0.55, 0.18, 0.08, 0.3, 0.47, 0.22, 0.13,
                      0.38, 0.6, 0.16, 0.1, 0.27, 0.45, 0.2, 0.34, 0.52, 0.11,
                      0.25, 0.98, 0.14, 0.09, 0.36, 0.5, 0.19, 0.29, 0.43, 0.12,
                      0.08, 0.33, 0.56, 0.21, 0.15, 0.39, 0.26, 0.1, 0.48, 0.6,
                      0.17, 0.3, 0.12, 0.41, 0.23, 0.09, 0.35, 0.54, 0.14, 0.27,
                      0.46, 0.11, 0.2, 0.37, 0.58, 0.16, 0.1, 0.31, 0.44, 0.22,
                      0.13, 0.4, 0.97, 0.18, 0.09, 0.28, 0.5, 0.24, 0.12, 0.36,
                      0.55, 0.15, 0.1, 0.33, 0.47, 0.2, 0.08, 0.29, 0.42, 0.6,
                      0.14, 0.25, 0.38, 0.11, 0.52, 0.19, 0.3, 0.45, 0.13, 0.22]
fill_trace_green = [0.9, 0.55, 0.98, 0.62, 0.85, 0.5, 0.95, 0.68, 0.8, 0.58,
                    0.99, 0.52, 0.88, 0.65, 0.96, 0.48, 0.82, 0.6, 0.97, 0.55,
                    0.86, 0.5, 0.93, 0.63, 0.99, 0.56, 0.84, 0.47, 0.92, 0.6,
                    0.98, 0.53, 0.87, 0.66, 0.95, 0.5, 0.8, 0.45, 0.96, 0.58,
                    0.89, 0.62, 0.99, 0.52, 0.85, 0.57, 0.94, 0.46, 0.9, 0.64,
                    0.97, 0.55, 0.83, 0.6, 0.98, 0.5, 0.88, 0.66, 0.93, 0.48,
                    0.86, 0.58, 0.99, 0.52, 0.91, 0.63, 0.84, 0.5, 0.96, 0.57,
                    0.89, 0.46, 0.98, 0.6, 0.85, 0.54, 0.94, 0.65, 0.88, 0.5,
                    0.97, 0.56, 0.83, 0.62, 0.99, 0.49, 0.9, 0.58, 0.95, 0.53,
                    0.87, 0.64, 0.98, 0.51, 0.92, 0.6, 0.86, 0.55, 0.96, 0.62]
fill_trace_green2 = [0.75, 0.92, 0.6, 0.5, 0.84, 0.98, 0.7, 0.56, 0.88, 0.95,
                     0.64, 0.48, 0.8, 0.99, 0.72, 0.58, 0.9, 0.66, 0.53, 0.86,
                     0.97, 0.62, 0.76, 0.94, 0.5, 0.68, 0.89, 0.99, 0.57, 0.81,
                     0.93, 0.6, 0.47, 0.78, 0.96, 0.7, 0.55, 0.87, 0.98, 0.63,
                     0.74, 0.91, 0.52, 0.83, 0.99, 0.66, 0.59, 0.88, 0.95, 0.49,
                     0.72, 0.9, 0.61, 0.8, 0.97, 0.56, 0.69, 0.93, 0.64, 0.51,
                     0.85, 0.99, 0.7, 0.58, 0.89, 0.77, 0.46, 0.82, 0.96, 0.6,
                     0.73, 0.92, 0.55, 0.87, 0.98, 0.65, 0.5, 0.79, 0.94, 0.62,
                     0.86, 0.99, 0.57, 0.71, 0.9, 0.53, 0.8, 0.96, 0.67, 0.6,
                     0.88, 0.74, 0.52, 0.93, 0.99, 0.63, 0.78, 0.9, 0.56, 0.84]

# ---------------- baseline_emission_norm ----------------
bem_grid = [-0.49, -0.45, -0.4, -0.35, -0.3, -0.27, -0.24, -0.21, -0.18, -0.15, -0.12, -0.09, -0.06,
            -0.03, 0.0, 0.03, 0.06, 0.1, 0.135]
bem_kde_blue = [
    [0.01, 0.03, 0.06, 0.14, 0.33, 0.52, 0.72, 0.88, 0.96, 0.94, 0.85, 0.68, 0.5, 0.35, 0.2, 0.1, 0.04, 0.01, 0.0],
    [0.01, 0.02, 0.05, 0.12, 0.28, 0.45, 0.64, 0.8, 0.9, 0.93, 0.86, 0.7, 0.5, 0.33, 0.19, 0.1, 0.04, 0.01, 0.0],
    [0.01, 0.03, 0.07, 0.17, 0.42, 0.6, 0.72, 0.78, 0.77, 0.78, 0.8, 0.72, 0.55, 0.38, 0.22, 0.11, 0.05, 0.015, 0.0],
    [0.005, 0.02, 0.04, 0.1, 0.25, 0.42, 0.62, 0.82, 0.96, 1.0, 0.95, 0.82, 0.65, 0.5, 0.34, 0.18, 0.06, 0.01, 0.0],
    [0.01, 0.03, 0.06, 0.13, 0.3, 0.46, 0.62, 0.76, 0.85, 0.88, 0.85, 0.72, 0.55, 0.38, 0.22, 0.11, 0.045, 0.012, 0.0],
]
bem_trace_a = [-0.1, -0.3, -0.05, -0.22, 0.02, -0.35, -0.12, -0.25, 0.05, -0.18,
               -0.32, -0.08, -0.2, -0.4, -0.1, 0.03, -0.28, -0.15, -0.45, -0.06,
               -0.22, 0.04, -0.3, -0.12, -0.02, -0.26, -0.16, -0.34, -0.07, -0.2,
               -0.11, -0.29, 0.0, -0.18, -0.36, -0.09, 0.1, -0.24, -0.14, -0.3,
               -0.05, -0.2, -0.38, -0.12, -0.48, -0.22, -0.08, 0.13, -0.27, -0.16,
               -0.33, -0.04, -0.21, 0.07, -0.3, -0.15, -0.42, -0.1, -0.25, -0.02,
               -0.19, -0.36, -0.08, -0.28, 0.04, -0.17, -0.4, -0.12, -0.23, -0.05,
               -0.31, -0.14, 0.06, -0.26, -0.1, -0.39, -0.2, -0.07, -0.33, 0.0,
               -0.15, -0.42, -0.09, -0.24, 0.02, -0.3, -0.12, -0.2, 0.1, -0.27,
               -0.06, -0.18, 0.12, -0.1, -0.25, -0.04, -0.32, -0.14, -0.22, -0.35]
bem_trace_b = [-0.2, -0.05, -0.32, -0.12, -0.26, 0.0, -0.38, -0.15, -0.08, -0.28,
               -0.02, -0.22, -0.34, -0.1, 0.06, -0.25, -0.13, -0.36, -0.04, -0.19,
               0.08, -0.3, -0.16, -0.06, -0.42, -0.14, -0.24, 0.02, -0.18, -0.33,
               -0.1, -0.27, -0.03, -0.2, 0.05, -0.35, -0.12, -0.4, -0.08, -0.23,
               0.1, -0.3, -0.15, -0.02, -0.28, -0.11, -0.37, -0.06, -0.22, 0.04,
               -0.14, -0.31, -0.08, -0.25, -0.4, -0.1, 0.03, -0.2, -0.34, -0.12,
               -0.24, 0.05, -0.16, -0.3, -0.07, -0.43, -0.18, 0.0, -0.27, -0.11,
               -0.21, -0.04, -0.35, -0.14, 0.13, -0.24, -0.09, -0.32, -0.17, 0.02,
               -0.28, -0.06, -0.2, -0.38, 0.05, -0.15, -0.26, -0.08, -0.3, 0.03,
               -0.12, -0.36, -0.02, -0.2, -0.28, 0.08, -0.16, -0.48, -0.1, -0.24]

# ---------------- baseline_absorption_norm ----------------
bab_grid = [-0.3, -0.25, -0.2, -0.15, -0.1, -0.05, 0.0, 0.05, 0.1, 0.15, 0.2, 0.25, 0.3, 0.35, 0.4,
            0.45, 0.5, 0.55, 0.6, 0.65, 0.7]
bab_kde_blue = [
    [0.0, 0.01, 0.03, 0.06, 0.11, 0.2, 0.34, 0.52, 0.7, 0.84, 0.9, 0.9, 0.8, 0.64, 0.45, 0.28, 0.15, 0.07, 0.03, 0.01, 0.0],
    [0.0, 0.015, 0.04, 0.08, 0.14, 0.23, 0.35, 0.5, 0.64, 0.74, 0.78, 0.77, 0.7, 0.58, 0.43, 0.29, 0.17, 0.09, 0.04, 0.02, 0.01],
    [0.0, 0.003, 0.01, 0.03, 0.08, 0.2, 0.4, 0.62, 0.85, 0.99, 0.94, 0.82, 0.68, 0.52, 0.36, 0.22, 0.12, 0.06, 0.02, 0.006, 0.0],
    [0.0, 0.01, 0.025, 0.05, 0.1, 0.18, 0.32, 0.5, 0.68, 0.82, 0.88, 0.89, 0.82, 0.67, 0.47, 0.3, 0.17, 0.09, 0.04, 0.015, 0.0],
    [0.0, 0.01, 0.025, 0.05, 0.1, 0.18, 0.31, 0.48, 0.66, 0.82, 0.9, 0.91, 0.84, 0.68, 0.47, 0.29, 0.15, 0.07, 0.03, 0.01, 0.0],
]
bab_trace_a = [0.3, 0.05, 0.42, 0.15, 0.55, -0.1, 0.35, 0.2, 0.5, 0.0,
               0.28, 0.45, 0.1, 0.38, -0.05, 0.25, 0.52, 0.12, 0.33, -0.15,
               0.4, 0.18, 0.6, 0.05, 0.3, 0.22, -0.2, 0.36, 0.1, 0.48,
               0.2, 0.02, 0.44, 0.26, 0.08, 0.55, 0.15, 0.32, -0.02, 0.4,
               0.25, 0.5, 0.06, 0.35, 0.12, 0.46, -0.08, 0.3, 0.2, 0.58,
               0.1, 0.38, 0.24, 0.02, 0.45, 0.16, 0.34, 0.72, 0.08, 0.28,
               0.5, 0.14, 0.36, -0.05, 0.42, 0.2, 0.3, 0.04, 0.48, 0.18,
               0.6, 0.1, 0.26, 0.4, -0.1, 0.32, 0.15, 0.5, 0.06, 0.35,
               0.22, 0.45, 0.0, 0.3, 0.14, 0.52, 0.08, 0.28, -0.2, 0.38,
               0.2, 0.46, 0.1, 0.33, 0.05, 0.42, 0.18, 0.55, 0.12, 0.3]
bab_trace_b = [0.15, 0.5, 0.22, 0.6, -0.05, 0.32, 0.1, 0.45, 0.25, 0.05,
               0.4, 0.18, 0.58, 0.02, 0.35, 0.12, 0.48, 0.2, -0.02, 0.3,
               0.1, 0.52, 0.26, 0.0, 0.42, 0.16, 0.36, -0.1, 0.28, 0.2,
               0.46, 0.08, 0.34, 0.62, 0.12, 0.24, 0.4, -0.15, 0.3, 0.14,
               0.38, 0.04, 0.55, 0.2, 0.32, -0.05, 0.44, 0.16, 0.28, 0.1,
               0.42, 0.22, 0.05, 0.36, 0.58, 0.12, 0.25, 0.46, 0.02, 0.34,
               0.18, 0.4, 0.1, 0.3, 0.52, -0.08, 0.24, 0.38, 0.14, 0.45,
               0.06, 0.3, 0.2, 0.48, 0.1, 0.36, -0.3, 0.26, 0.42, 0.16,
               0.32, 0.08, 0.5, 0.22, 0.35, 0.02, 0.44, 0.15, 0.3, 0.6,
               0.12, 0.38, 0.24, 0.05, 0.5, 0.2, 0.34, 0.1, 0.4, 0.26]

titles = ["fwhm2_norm", "log10_nHI_norm", "velocity_norm", "log10_n_alpha_norm", "TB_fwhm_norm",
          "tkin_factor_norm", "filling_factor", "baseline_emission_norm", "baseline_absorption_norm"]
kde_tick_steps = [0.5, 2, 0.05, 2, 0.1, 0.2, 0.2, 0.1, 0.2]
trace_tick_steps = [1, 2.5, 0.2, 2.5, 0.2, 0.5, 0.5, 0.2, 0.5]
flat_rows = [0, 2, 4]

kde_rows = [
    [(fwhm2_grid_blue, fwhm2_kde_blue, BLUE), (fwhm2_grid_orange, fwhm2_kde_orange, ORANGE),
     (fwhm2_grid_green, fwhm2_kde_green, GREEN)],
    [(nhi_grid, nhi_kde_blue, BLUE), (nhi_grid, nhi_kde_orange, ORANGE), (nhi_grid, nhi_kde_green, GREEN)],
    [(vel_grid_blue, vel_kde_blue, BLUE), (vel_grid_orange, vel_kde_orange, ORANGE),
     (vel_grid_green, vel_kde_green, GREEN)],
    [(nal_grid, nal_kde_blue, BLUE), (nal_grid, nal_kde_orange, ORANGE), (nal_grid, nal_kde_green, GREEN)],
    [(tb_grid_blue, tb_kde_blue, BLUE), (tb_grid_orange, tb_kde_orange, ORANGE),
     (tb_grid_green, tb_kde_green, GREEN)],
    [(tkin_grid_blue, tkin_kde_blue, BLUE), (tkin_grid_orange, tkin_kde_orange, ORANGE),
     (tkin_grid_green, tkin_kde_green, GREEN)],
    [(fill_grid_blue, fill_kde_blue, BLUE), (fill_grid_orange, fill_kde_orange, ORANGE),
     (fill_grid_green, fill_kde_green, GREEN)],
    [(bem_grid, bem_kde_blue, BLUE)],
    [(bab_grid, bab_kde_blue, BLUE)],
]
trace_rows = [
    [(fwhm2_trace_blue, BLUE, "-"), (fwhm2_trace_orange, ORANGE, "-"), (fwhm2_trace_green, GREEN, "-")],
    [(nhi_trace_blue, BLUE, "-"), (nhi_trace_blue2, BLUE, ":"), (nhi_trace_orange, ORANGE, "-"),
     (nhi_trace_orange2, ORANGE, ":"), (nhi_trace_green, GREEN, "-"), (nhi_trace_green2, GREEN, ":")],
    [(vel_trace_blue, BLUE, "-"), (vel_trace_orange, ORANGE, "-"), (vel_trace_green, GREEN, "-")],
    [(nal_trace_blue, BLUE, "-"), (nal_trace_blue2, BLUE, ":"), (nal_trace_orange, ORANGE, "-"),
     (nal_trace_orange2, ORANGE, ":"), (nal_trace_green, GREEN, "-"), (nal_trace_green2, GREEN, ":")],
    [(tb_trace_blue, BLUE, "-"), (tb_trace_orange, ORANGE, "-"), (tb_trace_green, GREEN, "-")],
    [(tkin_trace_blue, BLUE, "-"), (tkin_trace_blue2, BLUE, ":"), (tkin_trace_orange, ORANGE, "-"),
     (tkin_trace_orange2, ORANGE, ":"), (tkin_trace_green, GREEN, "-"), (tkin_trace_green2, GREEN, ":")],
    [(fill_trace_blue, BLUE, "-"), (fill_trace_blue2, BLUE, ":"), (fill_trace_orange, ORANGE, "-"),
     (fill_trace_orange2, ORANGE, ":"), (fill_trace_green, GREEN, "-"), (fill_trace_green2, GREEN, ":")],
    [(bem_trace_a, BLUE, "-"), (bem_trace_b, BLUE, ":")],
    [(bab_trace_a, BLUE, "-"), (bab_trace_b, BLUE, ":")],
]


def tex_title(name):
    return r"$\mathrm{" + name.replace("_", r"\_") + "}$"


fig, axes = plt.subplots(9, 2, figsize=(9.56, 14.53), dpi=100)
fig.subplots_adjust(left=0.0167, right=0.9895, top=0.9798, bottom=0.0262, wspace=0.2, hspace=0.2)

for i, title in enumerate(titles):
    ax_kde, ax_tr = axes[i]
    for grid, curves, color in kde_rows[i]:
        for j, curve in enumerate(curves):
            ax_kde.plot(grid, curve, color=color, ls=STYLES[j % len(STYLES)], lw=1.2)
    ax_kde.set_yticks([])
    ax_kde.xaxis.set_major_locator(MultipleLocator(kde_tick_steps[i]))
    ax_kde.grid(True, axis="x", color="#b0b0b0", lw=0.8)
    ax_kde.set_axisbelow(True)
    ax_kde.set_title(tex_title(title), fontsize=11)

    if i in flat_rows:
        lw, alpha = 1.8, 0.6
    else:
        lw, alpha = 1.4, 0.45
    for vals, color, ls in trace_rows[i]:
        draws = np.linspace(0, 999, len(vals))
        ax_tr.plot(draws, vals, color=color, ls=ls, lw=lw, alpha=alpha)
    ax_tr.set_xlim(0, 999)
    ax_tr.yaxis.set_major_locator(MultipleLocator(trace_tick_steps[i]))
    ax_tr.grid(True, color="#b0b0b0", lw=0.8)
    ax_tr.set_axisbelow(True)
    ax_tr.set_title(tex_title(title), fontsize=11)

fig.savefig("out.png", dpi=100)
